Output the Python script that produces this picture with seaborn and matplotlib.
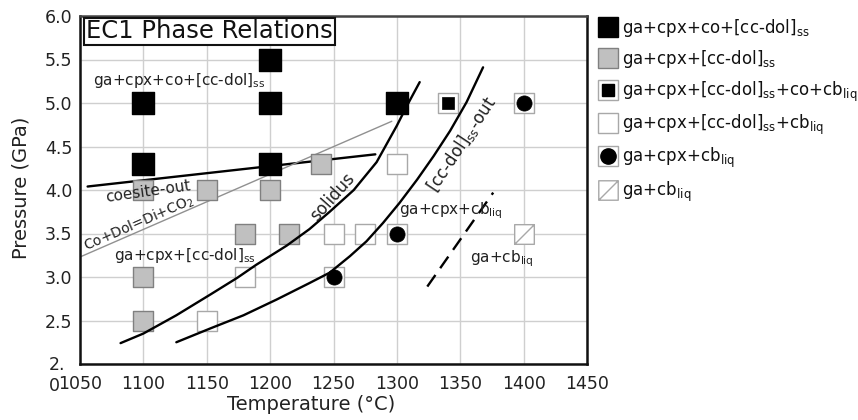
import numpy as np
import pandas as pd
import matplotlib
matplotlib.use("Agg")
import matplotlib.pyplot as plt
import matplotlib.transforms as mtransforms
from matplotlib.path import Path
from matplotlib.lines import Line2D
import seaborn as sns

# ---------------- data ----------------
# experiment runs (Temperature °C, Pressure GPa)
black_T = [1100, 1100, 1200, 1200, 1200, 1300]
black_P = [5.0, 4.3, 5.5, 5.0, 4.3, 5.0]
gray_T = [1100, 1150, 1200, 1240, 1180, 1215, 1100, 1100]
gray_P = [4.0, 4.0, 4.0, 4.3, 3.5, 3.5, 3.0, 2.5]
open_T = [1300, 1180, 1150, 1250, 1275]
open_P = [4.3, 3.0, 2.5, 3.5, 3.5]
inner_T = [1340]
inner_P = [5.0]
circle_T = [1400, 1300, 1250]
circle_P = [5.0, 3.5, 3.0]
slash_T = [1400]
slash_P = [3.5]

# phase boundaries
coesite_T = [1056, 1283]
coesite_P = [4.04, 4.41]
codol_T = [1050, 1296]
codol_P = [3.23, 4.79]
solidus_T = [1082, 1100, 1126, 1153, 1174, 1189, 1213, 1231, 1247, 1266, 1284, 1300, 1308, 1318]
solidus_P = [2.24, 2.35, 2.56, 2.80, 2.99, 3.14, 3.36, 3.55, 3.75, 4.00, 4.32, 4.74, 4.97, 5.24]
ccdol_T = [1126, 1153, 1179, 1205, 1231, 1247, 1263, 1276, 1289, 1302, 1316, 1329, 1342, 1355, 1368]
ccdol_P = [2.25, 2.41, 2.56, 2.74, 2.93, 3.05, 3.24, 3.41, 3.62, 3.85, 4.12, 4.39, 4.68, 5.01, 5.41]
dash_T = [1324, 1376]
dash_P = [2.89, 3.97]

x_ticks = [1050, 1100, 1150, 1200, 1250, 1300, 1350, 1400, 1450]
y_ticks = [2.0, 2.5, 3.0, 3.5, 4.0, 4.5, 5.0, 5.5, 6.0]
y_ticklabels = ["2.\n0", "2.5", "3.0", "3.5", "4.0", "4.5", "5.0", "5.5", "6.0"]

legend_labels = [
    r"ga+cpx+co+[cc-dol]$_{\mathrm{ss}}$",
    r"ga+cpx+[cc-dol]$_{\mathrm{ss}}$",
    r"ga+cpx+[cc-dol]$_{\mathrm{ss}}$+co+cb$_{\mathrm{liq}}$",
    r"ga+cpx+[cc-dol]$_{\mathrm{ss}}$+cb$_{\mathrm{liq}}$",
    r"ga+cpx+cb$_{\mathrm{liq}}$",
    r"ga+cb$_{\mathrm{liq}}$",
]

# ---------------- style ----------------
sns.set_theme(style="whitegrid")
plt.rcParams["font.family"] = ["DejaVu Sans"]
plt.rcParams["mathtext.fontset"] = "dejavusans"

fig = plt.figure(figsize=(8.58, 4.2), dpi=100)
ax = fig.add_axes([80 / 858, 56 / 420, 507 / 858, 348 / 420])
ax.set_facecolor("white")

GRAY_FILL = "#c0c0c0"
GRAY_EDGE = "#808080"
OPEN_EDGE = "#a8a8a8"

slash_path = Path(
    [(-0.5, -0.5), (0.5, -0.5), (0.5, 0.5), (-0.5, 0.5), (-0.5, -0.5), (-0.5, -0.5), (0.5, 0.5)],
    [Path.MOVETO, Path.LINETO, Path.LINETO, Path.LINETO, Path.CLOSEPOLY, Path.MOVETO, Path.LINETO],
)

# ---------------- lines ----------------
line_kw = dict(ax=ax, sort=False, estimator=None, legend=False)
sns.lineplot(x=coesite_T, y=coesite_P, color="black", linewidth=1.7, zorder=2, **line_kw)
sns.lineplot(x=codol_T, y=codol_P, color="#909090", linewidth=1.0, zorder=2, **line_kw)
sns.lineplot(x=solidus_T, y=solidus_P, color="black", linewidth=1.7, zorder=4, **line_kw)
sns.lineplot(x=ccdol_T, y=ccdol_P, color="black", linewidth=1.7, zorder=4, **line_kw)
sns.lineplot(x=dash_T, y=dash_P, color="black", linewidth=1.7, linestyle=(0, (6, 3.5)), zorder=2, **line_kw)

# ---------------- markers ----------------
sc_kw = dict(ax=ax, legend=False, zorder=3)
sns.scatterplot(x=black_T, y=black_P, marker="s", s=230, color="black", edgecolor="black", linewidth=1, **sc_kw)
sns.scatterplot(x=gray_T, y=gray_P, marker="s", s=200, color=GRAY_FILL, edgecolor=GRAY_EDGE, linewidth=1, **sc_kw)
sns.scatterplot(x=open_T, y=open_P, marker="s", s=190, color="white", edgecolor=OPEN_EDGE, linewidth=1, **sc_kw)
sns.scatterplot(x=inner_T, y=inner_P, marker="s", s=190, color="white", edgecolor=OPEN_EDGE, linewidth=1, **sc_kw)
sns.scatterplot(x=inner_T, y=inner_P, marker="s", s=75, color="black", edgecolor="black", linewidth=0.5, ax=ax, legend=False, zorder=5)
sns.scatterplot(x=circle_T, y=circle_P, marker="s", s=190, color="white", edgecolor=OPEN_EDGE, linewidth=1, **sc_kw)
sns.scatterplot(x=circle_T, y=circle_P, marker="o", s=120, color="black", edgecolor="black", linewidth=0.5, ax=ax, legend=False, zorder=5)
sns.scatterplot(x=slash_T, y=slash_P, marker=slash_path, s=200, color="white", edgecolor=OPEN_EDGE, linewidth=1, **sc_kw)

# ---------------- axes ----------------
ax.set_xlim(1050, 1450)
ax.set_ylim(2.0, 6.0)
ax.set_xticks(x_ticks)
ax.set_xticklabels([str(t) for t in x_ticks])
ax.set_yticks(y_ticks)
ax.set_yticklabels(y_ticklabels)
ax.tick_params(axis="both", length=0, labelsize=12.5, colors="#222222")
ax.tick_params(axis="x", pad=8)
ax.tick_params(axis="y", pad=5.5)
ax.grid(True, color="#cfcfcf", linewidth=1.0)
for side, sp in ax.spines.items():
    sp.set_visible(True)
    sp.set_color("#111111")
    sp.set_linewidth(1.8)
ax.spines["top"].set_color("#444444")

lab0 = ax.get_yticklabels()[0]
lab0.set_multialignment("left")
lab0.set_linespacing(1.2)
lab0.set_transform(lab0.get_transform() + mtransforms.ScaledTranslation(-0.07, -0.08, fig.dpi_scale_trans))

ax.set_xlabel("Temperature (°C)", fontsize=14, color="#222222")
ax.set_ylabel("Pressure (GPa)", fontsize=14, color="#222222")
ax.xaxis.set_label_coords(0.4556, -0.089)
ax.yaxis.set_label_coords(-0.097, 0.506)

# ---------------- annotations ----------------
ax.text(0.012, 0.99, "EC1 Phase Relations", transform=ax.transAxes, ha="left", va="top",
        fontsize=17.5, color="#111111", zorder=6,
        bbox=dict(boxstyle="square,pad=0.08", fc="white", ec="#111111", lw=1.5))

txt = dict(ha="center", va="center", color="#222222", rotation_mode="anchor", zorder=6)
ax.text(1128.5, 5.26, r"ga+cpx+co+[cc-dol]$_{\mathrm{ss}}$", fontsize=11, **txt)
ax.text(1103.3, 3.98, "coesite-out", fontsize=11, rotation=8, **txt)
ax.text(1096.5, 3.62, r"Co+Dol=Di+CO$_{2}$", fontsize=10, rotation=23.5, **txt)
ax.text(1132.8, 3.245, r"ga+cpx+[cc-dol]$_{\mathrm{ss}}$", fontsize=11, **txt)
ax.text(1249.6, 3.92, "solidus", fontsize=12, rotation=48.4, **txt)
ax.text(1351, 4.52, r"[cc-dol]$_{\mathrm{ss}}$-out", fontsize=12, rotation=56.4, **txt)
ax.text(1342.3, 3.76, r"ga+cpx+cb$_{\mathrm{liq}}$", fontsize=11, **txt)
ax.text(1383, 3.21, r"ga+cb$_{\mathrm{liq}}$", fontsize=11, **txt)

# ---------------- legend ----------------
ms = 14
h_black = Line2D([], [], ls="", marker="s", markersize=ms, mfc="black", mec="black")
h_gray = Line2D([], [], ls="", marker="s", markersize=ms, mfc=GRAY_FILL, mec=GRAY_EDGE)
h_open = Line2D([], [], ls="", marker="s", markersize=ms, mfc="white", mec=OPEN_EDGE)
h_inner = Line2D([], [], ls="", marker="s", markersize=8.5, mfc="black", mec="black")
h_circ = Line2D([], [], ls="", marker="o", markersize=11, mfc="black", mec="black")
h_slash = Line2D([], [], ls="", marker=slash_path, markersize=ms, mfc="white", mec=OPEN_EDGE)
handles = [h_black, h_gray, (h_open, h_inner), h_open, (h_open, h_circ), h_slash]
fig.legend(handles, legend_labels, loc="upper left", bbox_to_anchor=(599 / 858, 1 - 17 / 420),
           frameon=False, fontsize=12, handlelength=1.05, handletextpad=0.3,
           labelspacing=0.55, borderaxespad=0, borderpad=0, labelcolor="#111111")

fig.savefig("out.png", dpi=100)
